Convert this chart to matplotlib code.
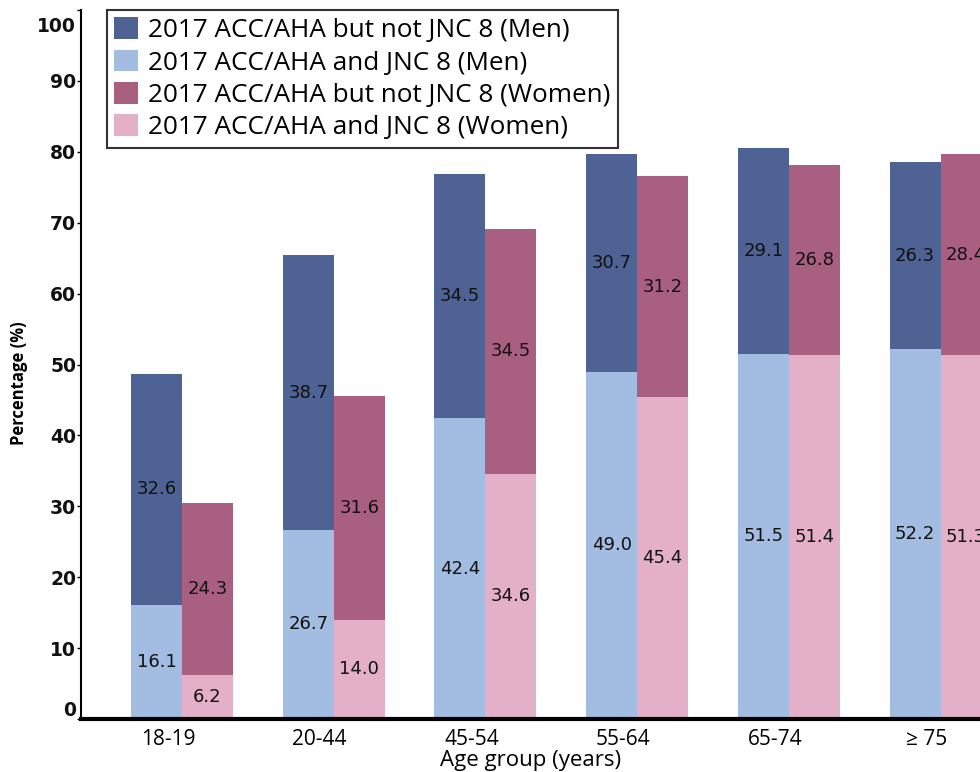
import numpy as np
import matplotlib.pyplot as plt
import matplotlib.transforms as mtransforms

# age groups and stacked percentages
age_groups = ["18-19", "20-44", "45-54", "55-64", "65-74", "\u2265 75"]
men_both = [16.1, 26.7, 42.4, 49.0, 51.5, 52.2]
men_acc_only = [32.6, 38.7, 34.5, 30.7, 29.1, 26.3]
women_both = [6.2, 14.0, 34.6, 45.4, 51.4, 51.3]
women_acc_only = [24.3, 31.6, 34.5, 31.2, 26.8, 28.4]

c_men_dark = "#4e6294"
c_men_light = "#a2bde1"
c_wom_dark = "#a95f80"
c_wom_light = "#e4b0c7"

fig = plt.figure(figsize=(9.8, 7.72), dpi=100)
ax = fig.add_axes([81 / 980, 1 - 719 / 772, 1 - 81 / 980, 709 / 772])

x = np.arange(len(age_groups))
w = 0.336

b1 = ax.bar(x - w / 2, men_both, w, color=c_men_light, label="2017 ACC/AHA and JNC 8 (Men)")
b2 = ax.bar(x - w / 2, men_acc_only, w, bottom=men_both, color=c_men_dark,
            label="2017 ACC/AHA but not JNC 8 (Men)")
b3 = ax.bar(x + w / 2, women_both, w, color=c_wom_light, label="2017 ACC/AHA and JNC 8 (Women)")
b4 = ax.bar(x + w / 2, women_acc_only, w, bottom=women_both, color=c_wom_dark,
            label="2017 ACC/AHA but not JNC 8 (Women)")

# value labels in the middle of each segment
for bars, vals, bots in [(b1, men_both, [0] * 6), (b2, men_acc_only, men_both),
                         (b3, women_both, [0] * 6), (b4, women_acc_only, women_both)]:
    for bar, v, b in zip(bars, vals, bots):
        ax.text(bar.get_x() + bar.get_width() / 2, b + v / 2, f"{v:.1f}",
                ha="center", va="center", fontsize=13, color="#111111")

ax.set_xlim(-0.666, 5.26)
ax.set_ylim(0, 100)
ax.set_yticks(np.arange(0, 101, 10))
ax.set_yticklabels([str(t) for t in range(0, 101, 10)], fontsize=13.5, fontweight="bold",
                   color="#111111")
ax.set_xticks(x)
ax.set_xticklabels(age_groups, fontsize=15, family="Open Sans")
ax.tick_params(axis="x", length=0, pad=7)
ax.tick_params(axis="y", length=3, width=1.0, direction="out", pad=0.5)

# end labels sit inside the axis range in the original
ylabels = ax.get_yticklabels()
ylabels[0].set_transform(ylabels[0].get_transform() +
                         mtransforms.ScaledTranslation(0, 10 / 100, fig.dpi_scale_trans))
ylabels[-1].set_transform(ylabels[-1].get_transform() +
                          mtransforms.ScaledTranslation(0, -14 / 100, fig.dpi_scale_trans))
# age labels are shifted a little left of the group centres
for lab in ax.get_xticklabels():
    lab.set_transform(lab.get_transform() +
                      mtransforms.ScaledTranslation(-14 / 100, 0, fig.dpi_scale_trans))

ax.spines["top"].set_visible(False)
ax.spines["right"].set_visible(False)
ax.spines["bottom"].set_linewidth(3)
ax.spines["left"].set_linewidth(1.5)

ax.set_xlabel("Age group (years)", fontsize=16, family="Open Sans", labelpad=0)
ax.set_ylabel("Percentage (%)", fontsize=12, family="Open Sans", fontweight="bold")
ax.yaxis.set_label_coords(-0.059, 0.474)

handles = [b2, b1, b4, b3]
leg = ax.legend(handles=handles, labels=[h.get_label() for h in handles],
                loc="upper left", bbox_to_anchor=(26 / 899, 1.0),
                prop={"family": "Open Sans", "size": 18.8}, frameon=True, fancybox=False,
                edgecolor="black", handlelength=0.9, handleheight=0.9, handletextpad=0.4,
                borderpad=0.28, labelspacing=0.25, borderaxespad=0)
leg.get_frame().set_linewidth(1.5)

fig.savefig("out.png", dpi=100)
